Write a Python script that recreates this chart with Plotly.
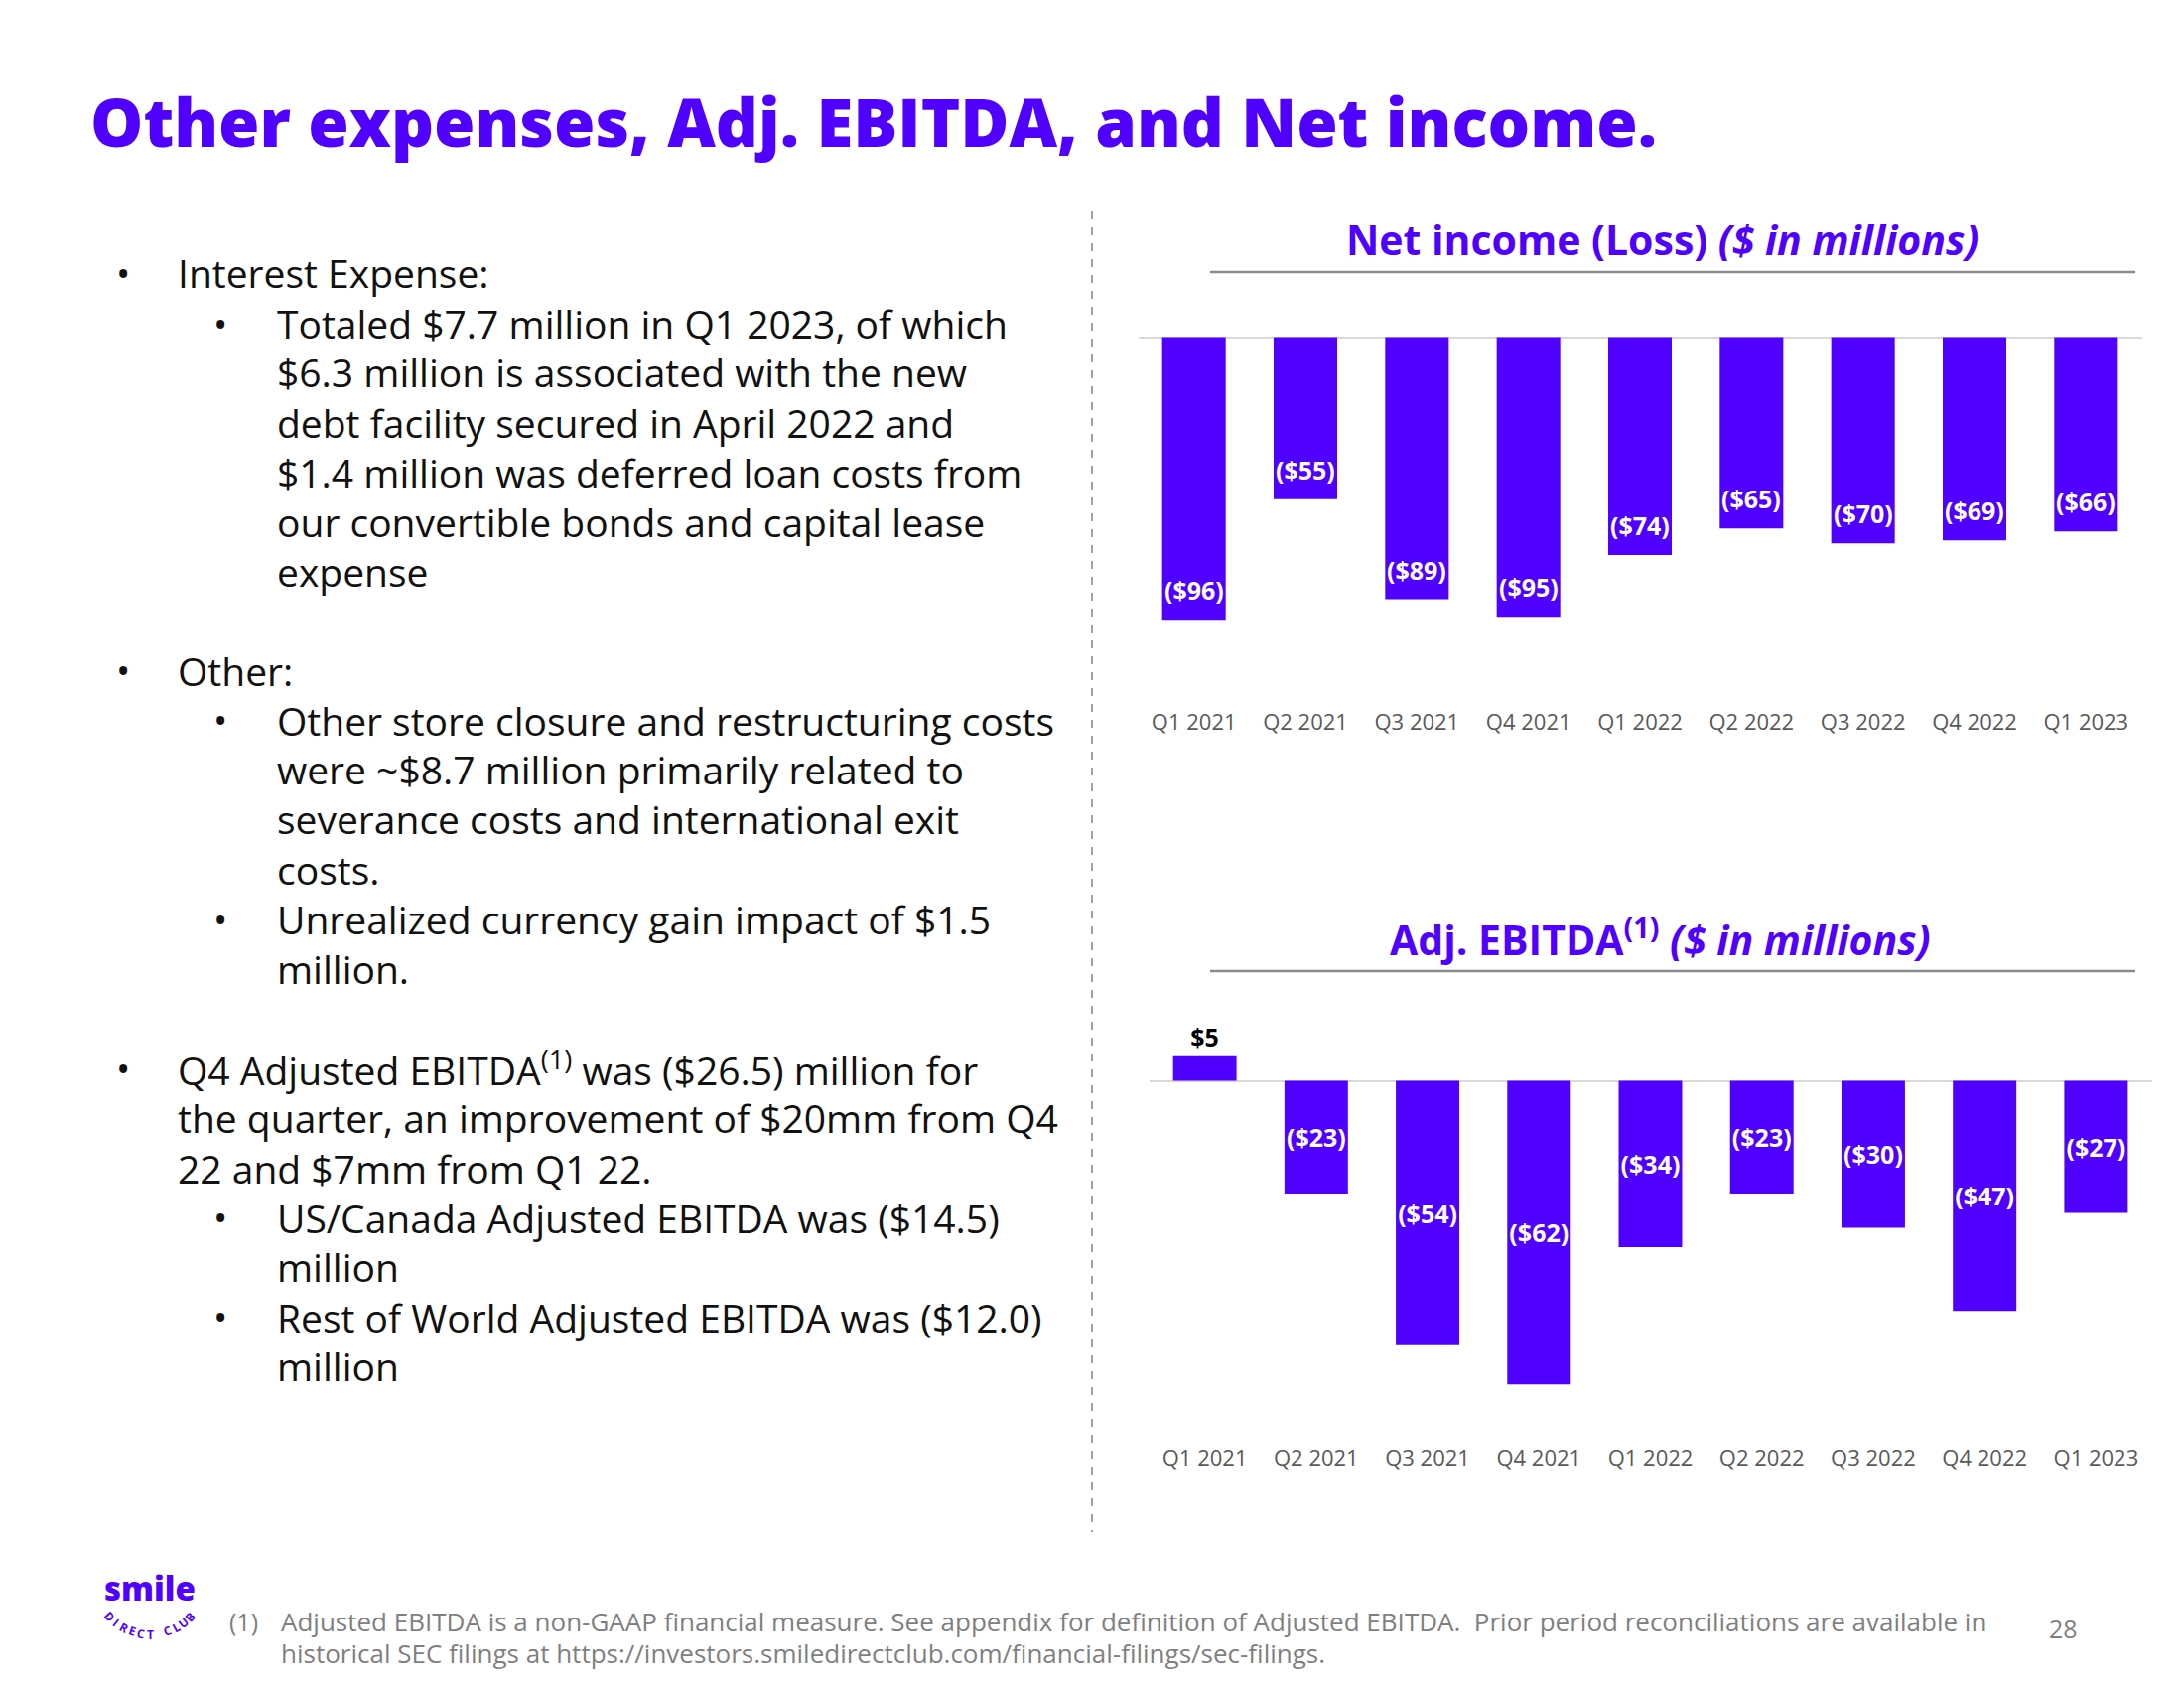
import math
import plotly.graph_objects as go

# ---------------- data ----------------
quarters = ["Q1 2021", "Q2 2021", "Q3 2021", "Q4 2021", "Q1 2022",
            "Q2 2022", "Q3 2022", "Q4 2022", "Q1 2023"]
net_income = [-96, -55, -89, -95, -74, -65, -70, -69, -66]
adj_ebitda = [5, -23, -54, -62, -34, -23, -30, -47, -27]

title_text = "Other expenses, Adj. EBITDA, and Net income."
net_title = "Net income (Loss) <i>($ in millions)</i>"
ebitda_title = "Adj. EBITDA<sup>(1)</sup> <i>($ in millions)</i>"

# (level, has_bullet, text)
body_lines = [
    (1, True, "Interest Expense:"),
    (2, True, "Totaled $7.7 million in Q1 2023, of which"),
    (2, False, "$6.3 million is associated with the new"),
    (2, False, "debt facility secured in April 2022 and"),
    (2, False, "$1.4 million was deferred loan costs from"),
    (2, False, "our convertible bonds and capital lease"),
    (2, False, "expense"),
    (1, True, "Other:"),
    (2, True, "Other store closure and restructuring costs"),
    (2, False, "were ~$8.7 million primarily related to"),
    (2, False, "severance costs and international exit"),
    (2, False, "costs."),
    (2, True, "Unrealized currency gain impact of $1.5"),
    (2, False, "million."),
    (1, True, "Q4 Adjusted EBITDA<sup>(1)</sup> was ($26.5) million for"),
    (1, False, "the quarter, an improvement of $20mm from Q4"),
    (1, False, "22 and $7mm from Q1 22."),
    (2, True, "US/Canada Adjusted EBITDA was ($14.5)"),
    (2, False, "million"),
    (2, True, "Rest of World Adjusted EBITDA was ($12.0)"),
    (2, False, "million"),
]
body_y = [275, 325.5, 375, 425, 475.6, 526, 575, 675, 725, 774.5, 825,
          875.5, 926, 975, 1076, 1125, 1176, 1226, 1275, 1326, 1375]

footnote_lines = [
    "Adjusted EBITDA is a non-GAAP financial measure. See appendix for definition of Adjusted EBITDA.  Prior period reconciliations are available in",
    "historical SEC filings at https://investors.smiledirectclub.com/financial-filings/sec-filings.",
]
page_number = "28"
logo_word = "smile"
logo_sub = "DIRECT CLUB"

# ---------------- style ----------------
OFF = 8                      # page body margin
W, H = 2200 - OFF, 1700 - OFF
PURPLE = "#5000FF"
FONT = "Open Sans"


def px(x):
    return (x - OFF) / W


def py(y):
    return 1 - (y - OFF) / H


def fmt(v):
    return f"(${abs(v)})" if v < 0 else f"${v}"


fig = go.Figure()

# Net income bars
fig.add_trace(go.Bar(
    x=quarters, y=net_income, marker_color=PURPLE, marker_line_width=0,
    xaxis="x", yaxis="y", hoverinfo="skip", showlegend=False,
))

# Adj. EBITDA bars
eb_pos = ["outside" if v >= 0 else "inside" for v in adj_ebitda]
fig.add_trace(go.Bar(
    x=quarters, y=adj_ebitda, marker_color=PURPLE, marker_line_width=0,
    text=[fmt(v) for v in adj_ebitda], textposition=eb_pos, textangle=0,
    insidetextanchor="middle", constraintext="none", cliponaxis=False,
    insidetextfont=dict(family=FONT, size=25, color="white", weight="bold"),
    outsidetextfont=dict(family=FONT, size=25, color="black", weight="bold"),
    xaxis="x2", yaxis="y2", hoverinfo="skip", showlegend=False,
))

annotations = []

# Net income labels at bar ends
for q, v in zip(quarters, net_income):
    annotations.append(dict(
        x=q, y=v, xref="x", yref="y", text=fmt(v), showarrow=False,
        yanchor="bottom", yshift=11,
        font=dict(family=FONT, size=25, color="white", weight="bold"),
    ))

# Slide title
annotations.append(dict(
    x=px(89), y=py(122), xref="paper", yref="paper", text=title_text,
    showarrow=False, xanchor="left", yanchor="middle",
    font=dict(family=FONT, size=67, color=PURPLE, weight=800),
))

# Chart titles
annotations.append(dict(
    x=px(1674), y=py(241), xref="paper", yref="paper", text=net_title,
    showarrow=False, xanchor="center", yanchor="middle",
    font=dict(family=FONT, size=41, color=PURPLE, weight="bold"),
))
annotations.append(dict(
    x=px(1672), y=py(944), xref="paper", yref="paper", text=ebitda_title,
    showarrow=False, xanchor="center", yanchor="middle",
    font=dict(family=FONT, size=41, color=PURPLE, weight="bold"),
))

# Body text
for (lvl, bul, txt), yy in zip(body_lines, body_y):
    bx = 124 if lvl == 1 else 222
    tx = 177 if lvl == 1 else 277
    if bul:
        annotations.append(dict(
            x=px(bx), y=py(yy), xref="paper", yref="paper", text="•",
            showarrow=False, xanchor="center", yanchor="middle",
            font=dict(family=FONT, size=38, color="#111111"),
        ))
    annotations.append(dict(
        x=px(tx), y=py(yy), xref="paper", yref="paper", text=txt,
        showarrow=False, xanchor="left", yanchor="middle",
        font=dict(family=FONT, size=39, color="#111111"),
    ))

# Footnote
annotations.append(dict(
    x=px(229), y=py(1633), xref="paper", yref="paper", text="(1)",
    showarrow=False, xanchor="left", yanchor="middle",
    font=dict(family=FONT, size=25, color="#7f7f7f"),
))
for i, line in enumerate(footnote_lines):
    annotations.append(dict(
        x=px(281), y=py(1633 + 32 * i), xref="paper", yref="paper", text=line,
        showarrow=False, xanchor="left", yanchor="middle",
        font=dict(family=FONT, size=26, color="#7f7f7f"),
    ))
annotations.append(dict(
    x=px(2078), y=py(1640), xref="paper", yref="paper", text=page_number,
    showarrow=False, xanchor="center", yanchor="middle",
    font=dict(family=FONT, size=25, color="#7f7f7f"),
))

# Logo
annotations.append(dict(
    x=px(151), y=py(1599), xref="paper", yref="paper", text=logo_word,
    showarrow=False, xanchor="center", yanchor="middle",
    font=dict(family=FONT, size=33, color=PURPLE, weight=800),
))
n = len(logo_sub)
cx, cy, r = 151, 1592, 54
for i, ch in enumerate(logo_sub):
    if ch == " ":
        continue
    th = -48 + 96 * i / (n - 1)
    rad = math.radians(th)
    annotations.append(dict(
        x=px(cx + r * math.sin(rad)), y=py(cy + r * math.cos(rad)),
        xref="paper", yref="paper", text=ch, showarrow=False,
        xanchor="center", yanchor="middle", textangle=-th,
        font=dict(family=FONT, size=12, color=PURPLE, weight="bold"),
    ))

shapes = [
    # dashed divider
    dict(type="line", xref="paper", yref="paper", x0=px(1100), x1=px(1100),
         y0=py(213), y1=py(1543), line=dict(color="#a0a0a0", width=2, dash="8px,8px")),
    # chart title rules
    dict(type="line", xref="paper", yref="paper", x0=px(1219), x1=px(2151),
         y0=py(274), y1=py(274), line=dict(color="#8a8a8a", width=2.5)),
    dict(type="line", xref="paper", yref="paper", x0=px(1219), x1=px(2151),
         y0=py(978), y1=py(978), line=dict(color="#8a8a8a", width=2.5)),
]

axis_tick_font = dict(family=FONT, size=22, color="#595959")

fig.update_layout(
    width=W, height=H,
    margin=dict(l=0, r=0, t=0, b=0),
    paper_bgcolor="white", plot_bgcolor="white",
    bargap=0.43,
    showlegend=False,
    xaxis=dict(domain=[px(1146.5), px(2157.5)], anchor="y", type="category",
               showgrid=False, showline=False, ticks="", tickfont=axis_tick_font,
               fixedrange=True),
    yaxis=dict(domain=[py(712), py(290)], anchor="x",
               range=[-(712 - 339.5) / 2.967, (339.5 - 290) / 2.967],
               showgrid=False, showticklabels=False, zeroline=True,
               zerolinecolor="#d9d9d9", zerolinewidth=2, fixedrange=True),
    xaxis2=dict(domain=[px(1157.5), px(2167.5)], anchor="y2", type="category",
                showgrid=False, showline=False, ticks="", tickfont=axis_tick_font,
                fixedrange=True),
    yaxis2=dict(domain=[py(1453), py(1000)], anchor="x2",
                range=[-(1453 - 1088.5) / 4.93, (1088.5 - 1000) / 4.93],
                showgrid=False, showticklabels=False, zeroline=True,
                zerolinecolor="#d9d9d9", zerolinewidth=2, fixedrange=True),
    annotations=annotations,
    shapes=shapes,
)

fig.write_html("out.html")
